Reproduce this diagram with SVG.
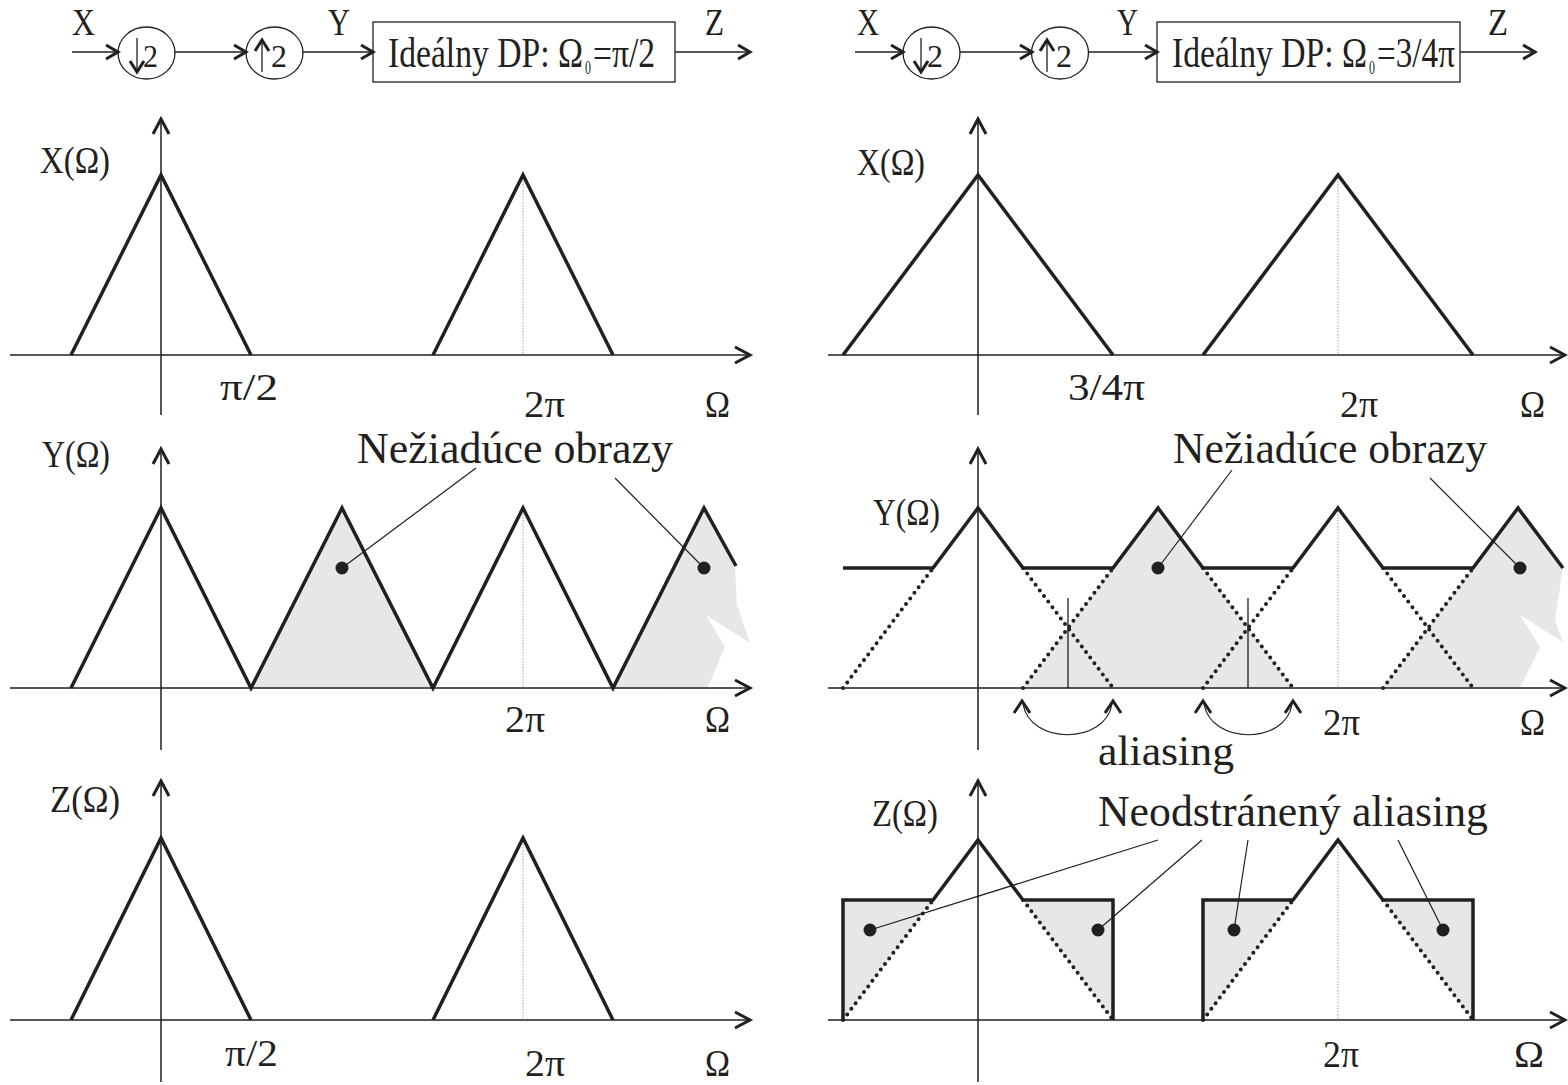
<svg xmlns="http://www.w3.org/2000/svg" width="1568" height="1085" viewBox="0 0 1568 1085">
<defs>
<style>
.t{font-family:"Liberation Serif","Times New Roman",serif;fill:#231f20}
.ax{stroke:#231f20;stroke-width:1.5;fill:none}
.ah{stroke:#231f20;stroke-width:3;fill:none;stroke-linejoin:miter;stroke-linecap:butt}
.sig{stroke:#231f20;stroke-width:3.5;fill:none;stroke-linejoin:miter}
.dt{stroke:#231f20;stroke-width:4;stroke-dasharray:0 7;stroke-linecap:round;fill:none}
.g2{fill:#e6e7e8;stroke:none}
.vd{stroke:#a0a0a0;stroke-width:1;stroke-dasharray:1.5 1.5;fill:none}
.ptr{stroke:#231f20;stroke-width:1.2;fill:none}
.ln{stroke:#231f20;stroke-width:1.3;fill:none}
.nd{fill:none;stroke:#231f20;stroke-width:1.3}
</style>
</defs>
<rect width="1568" height="1085" fill="#ffffff"/>

<!-- ===== Block diagram left ===== -->
<g id="left-input"><text class="t" x="72" y="35" font-size="38" textLength="23" lengthAdjust="spacingAndGlyphs">X</text></g>
<g id="left-down2">
<ellipse class="nd" cx="146.5" cy="53" rx="28.5" ry="26"/>
<path class="ln" d="M137,38 V71"/>
<polyline class="ah" points="130,61 137,72 144,61"/>
<text class="t" x="143" y="67" font-size="32" textLength="15" lengthAdjust="spacingAndGlyphs">2</text>
</g>
<g id="left-up2">
<ellipse class="nd" cx="274.5" cy="53" rx="28.5" ry="26"/>
<path class="ln" d="M262,41 V72"/>
<polyline class="ah" points="255,51 262,40 269,51"/>
<text class="t" x="271" y="67" font-size="32" textLength="16" lengthAdjust="spacingAndGlyphs">2</text>
</g>
<g id="left-filter">
<rect class="nd" x="373" y="22" width="302" height="60"/>
<text class="t" x="388" y="67" font-size="42" textLength="195" lengthAdjust="spacingAndGlyphs">Ideálny DP: Ω</text>
<text class="t" x="585" y="74" font-size="18" textLength="6" lengthAdjust="spacingAndGlyphs">0</text>
<text class="t" x="593" y="67" font-size="42" textLength="62" lengthAdjust="spacingAndGlyphs">=π/2</text>
</g>
<g id="left-output"><text class="t" x="705" y="35" font-size="38" textLength="19" lengthAdjust="spacingAndGlyphs">Z</text></g>
<g id="left-y-label"><text class="t" x="328" y="35" font-size="38" textLength="22" lengthAdjust="spacingAndGlyphs">Y</text></g>

<!-- ===== Block diagram right ===== -->
<g id="right-input"><text class="t" x="857" y="35" font-size="38" textLength="22" lengthAdjust="spacingAndGlyphs">X</text></g>
<g id="right-down2">
<ellipse class="nd" cx="931.5" cy="53" rx="28.5" ry="26"/>
<path class="ln" d="M921,38 V71"/>
<polyline class="ah" points="914,61 921,72 928,61"/>
<text class="t" x="927" y="67" font-size="32" textLength="16" lengthAdjust="spacingAndGlyphs">2</text>
</g>
<g id="right-up2">
<ellipse class="nd" cx="1060" cy="53" rx="28.5" ry="26"/>
<path class="ln" d="M1047,41 V72"/>
<polyline class="ah" points="1040,51 1047,40 1054,51"/>
<text class="t" x="1056" y="67" font-size="32" textLength="16" lengthAdjust="spacingAndGlyphs">2</text>
</g>
<g id="right-filter">
<rect class="nd" x="1157" y="22" width="303" height="60"/>
<text class="t" x="1172" y="67" font-size="42" textLength="195" lengthAdjust="spacingAndGlyphs">Ideálny DP: Ω</text>
<text class="t" x="1369" y="74" font-size="18" textLength="6" lengthAdjust="spacingAndGlyphs">0</text>
<text class="t" x="1377" y="67" font-size="42" textLength="78" lengthAdjust="spacingAndGlyphs">=3/4π</text>
</g>
<g id="right-output"><text class="t" x="1488" y="35" font-size="38" textLength="20" lengthAdjust="spacingAndGlyphs">Z</text></g>
<g id="right-y-label"><text class="t" x="1117" y="35" font-size="38" textLength="21" lengthAdjust="spacingAndGlyphs">Y</text></g>

<!-- connectors -->
<g id="connectors">
<path class="ln" d="M72,52 H117 M175,52 H245 M303,52 H372 M675,52 H749"/>
<polyline class="ah" points="106,45 118,52 106,59"/>
<polyline class="ah" points="234,45 246,52 234,59"/>
<polyline class="ah" points="361,45 373,52 361,59"/>
<polyline class="ah" points="738,45 750,52 738,59"/>
<path class="ln" d="M855,52 H902 M960,52 H1031 M1088,52 H1156 M1460,52 H1534"/>
<polyline class="ah" points="891,45 903,52 891,59"/>
<polyline class="ah" points="1020,45 1032,52 1020,59"/>
<polyline class="ah" points="1145,45 1157,52 1145,59"/>
<polyline class="ah" points="1523,45 1535,52 1523,59"/>
</g>

<!-- ===== LEFT PLOT 1: X ===== -->
<g id="left-plot-x">
<path class="ax" d="M161,119 V415 M10,355 H749"/>
<polyline class="ah" points="153,134 161,119 169,134"/>
<polyline class="ah" points="735,347 750,355 735,363"/>
<path class="vd" d="M523,175 V355"/>
<polyline class="sig" points="71,355 161,175 251,355"/>
<polyline class="sig" points="433,355 523,175 613,355"/>
<text class="t" x="40" y="173" font-size="38" textLength="70" lengthAdjust="spacingAndGlyphs">X(Ω)</text>
<text class="t" x="220" y="400" font-size="38" textLength="58" lengthAdjust="spacingAndGlyphs">π/2</text>
<text class="t" x="524" y="417" font-size="38" textLength="41" lengthAdjust="spacingAndGlyphs">2π</text>
<text class="t" x="705" y="417" font-size="38" textLength="25" lengthAdjust="spacingAndGlyphs">Ω</text>
</g>

<!-- ===== LEFT PLOT 2: Y ===== -->
<g id="left-plot-y">
<polygon class="g2" points="251,688 342,508 433,688"/>
<polygon class="g2" points="613,688 704,508 735,568 737,605 750,643 706,615 725,647 707,689"/>
<path class="ax" d="M161,449 V750 M10,688 H749"/>
<polyline class="ah" points="153,464 161,449 169,464"/>
<polyline class="ah" points="735,680 750,688 735,696"/>
<path class="vd" d="M523,508 V688"/>
<polyline class="sig" points="71,688 161,508 251,688 342,508 433,688 523,508 613,688 704,508 736,566"/>
<text class="t" x="42" y="467" font-size="38" textLength="68" lengthAdjust="spacingAndGlyphs">Y(Ω)</text>
<text class="t" x="357" y="463" font-size="44" textLength="316" lengthAdjust="spacingAndGlyphs">Nežiadúce obrazy</text>
<path class="ptr" d="M476,468 L342,568 M615,478 L704,568"/>
<circle cx="342" cy="568" r="6.5" fill="#231f20"/>
<circle cx="704" cy="568" r="6.5" fill="#231f20"/>
<text class="t" x="505" y="732" font-size="38" textLength="40" lengthAdjust="spacingAndGlyphs">2π</text>
<text class="t" x="705" y="732" font-size="38" textLength="25" lengthAdjust="spacingAndGlyphs">Ω</text>
</g>

<!-- ===== LEFT PLOT 3: Z ===== -->
<g id="left-plot-z">
<path class="ax" d="M161,781 V1082 M10,1020 H749"/>
<polyline class="ah" points="153,796 161,781 169,796"/>
<polyline class="ah" points="735,1012 750,1020 735,1028"/>
<path class="vd" d="M523,838 V1020"/>
<polyline class="sig" points="71,1020 161,838 251,1020"/>
<polyline class="sig" points="433,1020 523,838 613,1020"/>
<text class="t" x="50" y="812" font-size="38" textLength="70" lengthAdjust="spacingAndGlyphs">Z(Ω)</text>
<text class="t" x="225" y="1066" font-size="38" textLength="53" lengthAdjust="spacingAndGlyphs">π/2</text>
<text class="t" x="525" y="1076" font-size="38" textLength="40" lengthAdjust="spacingAndGlyphs">2π</text>
<text class="t" x="705" y="1076" font-size="38" textLength="25" lengthAdjust="spacingAndGlyphs">Ω</text>
</g>

<!-- ===== RIGHT PLOT 1: X ===== -->
<g id="right-plot-x">
<path class="ax" d="M978,119 V415 M828,355 H1564"/>
<polyline class="ah" points="970,134 978,119 986,134"/>
<polyline class="ah" points="1550,347 1565,355 1550,363"/>
<path class="vd" d="M1338,175 V355"/>
<polyline class="sig" points="843,355 978,175 1113,355"/>
<polyline class="sig" points="1203,355 1338,175 1473,355"/>
<text class="t" x="857" y="175" font-size="38" textLength="68" lengthAdjust="spacingAndGlyphs">X(Ω)</text>
<text class="t" x="1068" y="400" font-size="38" textLength="77" lengthAdjust="spacingAndGlyphs">3/4π</text>
<text class="t" x="1340" y="417" font-size="38" textLength="38" lengthAdjust="spacingAndGlyphs">2π</text>
<text class="t" x="1520" y="417" font-size="38" textLength="25" lengthAdjust="spacingAndGlyphs">Ω</text>
</g>

<!-- ===== RIGHT PLOT 2: Y ===== -->
<g id="right-plot-y">
<polygon class="g2" points="1023,688 1158,508 1293,688"/>
<polygon class="g2" points="1383,688 1518,508 1563,568 1555,620 1563,642 1520,615 1540,647 1520,688"/>
<path class="ax" d="M978,449 V750 M828,688 H1564"/>
<polyline class="ah" points="970,464 978,449 986,464"/>
<polyline class="ah" points="1550,680 1565,688 1550,696"/>
<path class="vd" d="M1338,508 V688"/>
<path class="ln" d="M1068,598 V688 M1248,598 V688"/>
<path class="dt" d="M843,688 L933,568 M1023,568 L1113,688 M1023,688 L1113,568 M1203,568 L1293,688 M1203,688 L1293,568 M1383,568 L1473,688 M1383,688 L1473,568"/>
<polyline class="sig" points="843,568 933,568 978,508 1023,568 1113,568 1158,508 1203,568 1293,568 1338,508 1383,568 1473,568 1518,508 1563,568"/>
<text class="t" x="873" y="525" font-size="38" textLength="67" lengthAdjust="spacingAndGlyphs">Y(Ω)</text>
<text class="t" x="1173" y="463" font-size="44" textLength="314" lengthAdjust="spacingAndGlyphs">Nežiadúce obrazy</text>
<path class="ptr" d="M1232,470 L1158,568 M1430,478 L1520,568"/>
<circle cx="1158" cy="568" r="6.5" fill="#231f20"/>
<circle cx="1520" cy="568" r="6.5" fill="#231f20"/>
<polyline class="ah" points="1014,713 1022,701 1030,713"/>
<polyline class="ah" points="1105,713 1113,701 1121,713"/>
<polyline class="ah" points="1195,713 1203,701 1211,713"/>
<polyline class="ah" points="1285,713 1293,701 1301,713"/>
<path class="ptr" d="M1023,704 C1030,745 1105,745 1112,704 M1204,704 C1211,745 1286,745 1292,704"/>
<text class="t" x="1098" y="765" font-size="42" textLength="136" lengthAdjust="spacingAndGlyphs">aliasing</text>
<text class="t" x="1323" y="735" font-size="38" textLength="37" lengthAdjust="spacingAndGlyphs">2π</text>
<text class="t" x="1520" y="735" font-size="38" textLength="25" lengthAdjust="spacingAndGlyphs">Ω</text>
</g>

<!-- ===== RIGHT PLOT 3: Z ===== -->
<g id="right-plot-z">
<polygon class="g2" points="843,1020 843,900 933,900"/>
<polygon class="g2" points="1023,900 1113,900 1113,1020"/>
<polygon class="g2" points="1203,1020 1203,900 1293,900"/>
<polygon class="g2" points="1383,900 1473,900 1473,1020"/>
<path class="ax" d="M978,781 V1082 M828,1020 H1564"/>
<polyline class="ah" points="970,796 978,781 986,796"/>
<polyline class="ah" points="1550,1012 1565,1020 1550,1028"/>
<path class="vd" d="M1338,840 V1020"/>
<path class="dt" d="M843,1020 L933,900 M1023,900 L1113,1020 M1203,1020 L1293,900 M1383,900 L1473,1020"/>
<polyline class="sig" points="843,1020 843,900 933,900 978,840 1023,900 1113,900 1113,1020"/>
<polyline class="sig" points="1203,1020 1203,900 1293,900 1338,840 1383,900 1473,900 1473,1020"/>
<text class="t" x="872" y="826" font-size="38" textLength="66" lengthAdjust="spacingAndGlyphs">Z(Ω)</text>
<text class="t" x="1098" y="826" font-size="44" textLength="390" lengthAdjust="spacingAndGlyphs">Neodstránený aliasing</text>
<path class="ptr" d="M1158,840 L870,930 M1202,840 L1098,930 M1248,840 L1234,930 M1398,840 L1443,930"/>
<circle cx="870" cy="930" r="6.5" fill="#231f20"/>
<circle cx="1098" cy="930" r="6.5" fill="#231f20"/>
<circle cx="1234" cy="930" r="6.5" fill="#231f20"/>
<circle cx="1443" cy="930" r="6.5" fill="#231f20"/>
<text class="t" x="1323" y="1067" font-size="38" textLength="36" lengthAdjust="spacingAndGlyphs">2π</text>
<text class="t" x="1514" y="1067" font-size="38" textLength="30" lengthAdjust="spacingAndGlyphs">Ω</text>
</g>
</svg>
